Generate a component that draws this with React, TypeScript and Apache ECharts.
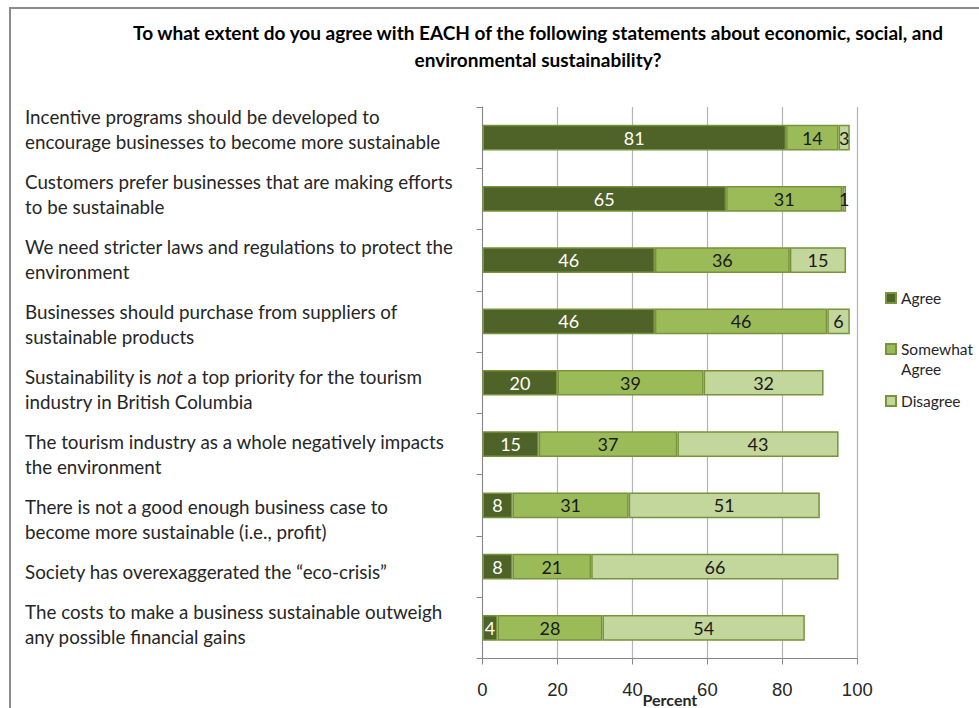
import React, { useEffect, useRef } from "react";
import * as echarts from "echarts";

const TITLE_LINES = [
  "To what extent do you agree with EACH of the following statements about economic, social, and",
  "environmental sustainability?",
];

const CATEGORIES = [
  "Incentive programs should be developed to\nencourage businesses to become more sustainable",
  "Customers prefer businesses that are making efforts\nto be sustainable",
  "We need stricter laws and regulations to protect the\nenvironment",
  "Businesses should purchase from suppliers of\nsustainable products",
  "Sustainability is not a top priority for the tourism\nindustry in British Columbia",
  "The tourism industry as a whole negatively impacts\nthe environment",
  "There is not a good enough business case to\nbecome more sustainable (i.e., profit)",
  "Society has overexaggerated the \u201Ceco-crisis\u201D",
  "The costs to make a business sustainable outweigh\nany possible financial gains",
];

const SERIES_NAMES = ["Agree", "Somewhat Agree", "Disagree"];
const AGREE = [81, 65, 46, 46, 20, 15, 8, 8, 4];
const SOMEWHAT = [14, 31, 36, 46, 39, 37, 31, 21, 28];
const DISAGREE = [3, 1, 15, 6, 32, 43, 51, 66, 54];
const X_TICKS = [0, 20, 40, 60, 80, 100];

const COLORS = ["#4f6228", "#9bbb59", "#c3d69b"];
const LABEL_COLORS = ["#ffffff", "#1a1a1a", "#1a1a1a"];
const FONT = "Lato, 'Noto Sans', sans-serif";

function buildLabelText(): string {
  const parts: string[] = [];
  CATEGORIES.forEach((c, idx) => {
    const lines = c.split("\n").map((l) =>
      l.replace(/^Sustainability is not /, "Sustainability is {i|not} ")
    );
    parts.push(...lines);
    if (idx < CATEGORIES.length - 1) parts.push("{g| }");
  });
  return parts.join("\n");
}

export default function App() {
  const ref = useRef<HTMLDivElement>(null);
  useEffect(() => {
    document.body.style.margin = "0";
    if (!ref.current) return;
    const chart = echarts.init(ref.current, undefined, { renderer: "svg" });
    const data = [AGREE, SOMEWHAT, DISAGREE];
    const legendTops = [288, 339, 391];
    const option: any = {
      animation: false,
      backgroundColor: "#ffffff",
      grid: {
        left: 482.5,
        right: 121.7,
        top: 107,
        bottom: 49.5,
        containLabel: false,
        outerBoundsMode: "none",
      },
      xAxis: {
        type: "value",
        min: X_TICKS[0],
        max: X_TICKS[X_TICKS.length - 1],
        interval: X_TICKS[1] - X_TICKS[0],
        axisLine: { show: true, lineStyle: { color: "#868686", width: 1 } },
        axisTick: { show: true, length: 6, lineStyle: { color: "#868686" } },
        splitLine: { show: true, lineStyle: { color: "#b4b4b4", width: 1.2 } },
        axisLabel: {
          fontSize: 18.5,
          fontFamily: "'Liberation Sans', Arial, sans-serif",
          color: "#262626",
          margin: 21,
        },
        name: "Percent",
        nameLocation: "middle",
        nameGap: 33,
        nameMoveOverlap: false,
        nameTextStyle: {
          fontSize: 16,
          fontWeight: "bold",
          fontFamily: FONT,
          color: "#262626",
          lineHeight: 16,
        },
      },
      yAxis: {
        type: "category",
        inverse: true,
        data: CATEGORIES,
        axisLine: { show: true, lineStyle: { color: "#868686", width: 1 } },
        axisTick: { show: true, length: 6, lineStyle: { color: "#868686" } },
        axisLabel: { show: false },
        splitLine: { show: false },
      },
      legend: SERIES_NAMES.map((n, i) => ({
        data: [
          i === 1
            ? { name: n, icon: "path://M0 0H10V10H0Z M0 30" }
            : { name: n, icon: "rect" },
        ],
        orient: "vertical",
        left: 885,
        top: legendTops[i],
        padding: 0,
        itemWidth: 10,
        itemHeight: i === 1 ? 30 : 10,
        selectedMode: false,
        formatter: (name: string) => (name === "Somewhat Agree" ? "Somewhat\nAgree" : name),
        textStyle: { fontSize: 15.5, fontFamily: FONT, color: "#262626", lineHeight: 20 },
      })),
      series: SERIES_NAMES.map((n, i) => ({
        name: n,
        type: "bar",
        stack: "total",
        barWidth: "42%",
        data: data[i],
        itemStyle: { color: COLORS[i], borderColor: "#77933c", borderWidth: 1.5 },
        label: {
          show: true,
          position: "inside",
          color: LABEL_COLORS[i],
          fontSize: 18,
          fontFamily: FONT,
        },
      })),
      graphic: [
        {
          type: "rect",
          z: -10,
          shape: { x: 10, y: 8, width: 1200, height: 1000 },
          style: { fill: "none", stroke: "#8c8c8c", lineWidth: 2 },
        },
        {
          type: "text",
          x: 538,
          y: 18.5,
          style: {
            text: TITLE_LINES.join("\n"),
            align: "center",
            verticalAlign: "top",
            fontSize: 19,
            fontWeight: "bold",
            fontFamily: FONT,
            lineHeight: 27,
            fill: "#000000",
          },
        },
        {
          type: "text",
          x: 25,
          y: 103.5,
          style: {
            text: buildLabelText(),
            align: "left",
            verticalAlign: "top",
            fontSize: 18.8,
            fontFamily: FONT,
            lineHeight: 25,
            fill: "#262626",
            rich: {
              i: { fontSize: 18.8, fontFamily: FONT, fontStyle: "italic", lineHeight: 25, fill: "#262626" },
              g: { fontSize: 10, lineHeight: 15 },
            },
          },
        },
      ],
    };
    chart.setOption(option);
    return () => chart.dispose();
  }, []);
  return <div ref={ref} style={{ width: 979, height: 708 }} />;
}
